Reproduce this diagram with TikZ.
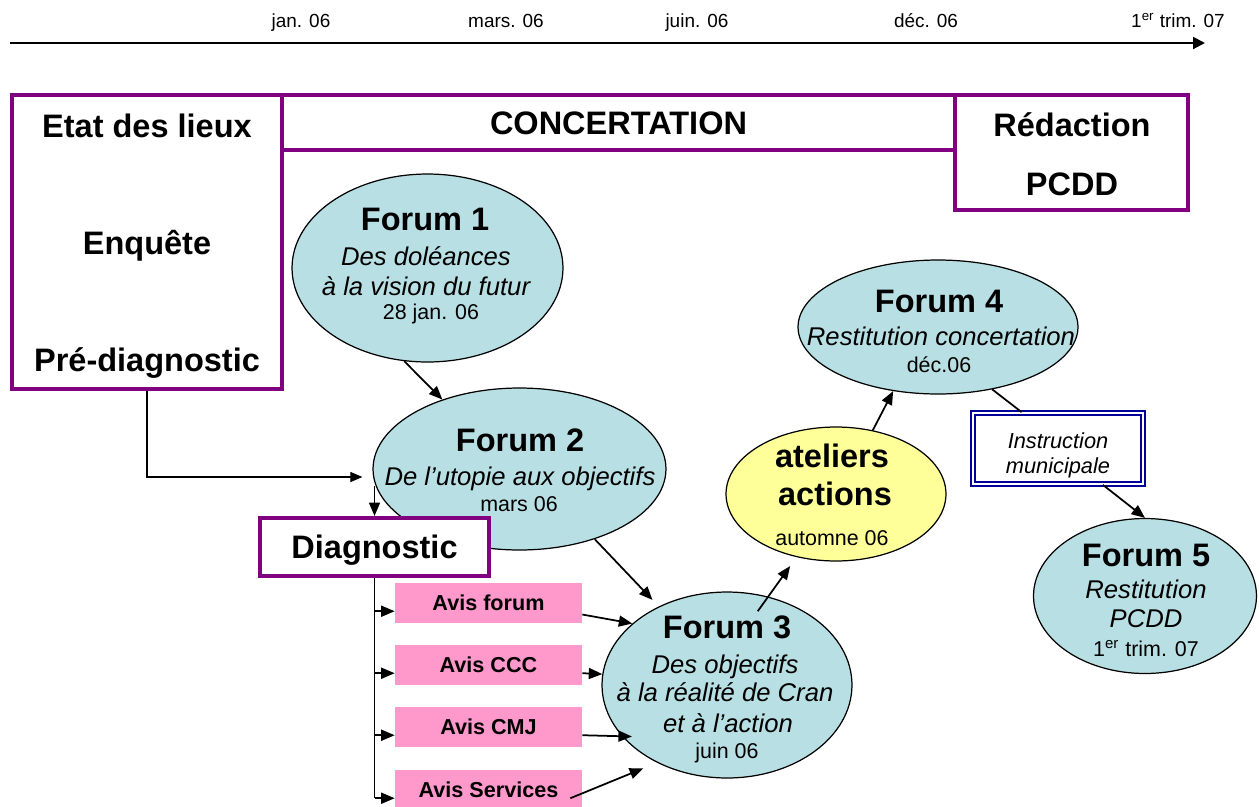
\documentclass[tikz,border=0pt]{standalone}
\usepackage{fontspec}
\setmainfont{Liberation Sans}
\usepackage{tikz}
\usetikzlibrary{arrows.meta,%
                shapes,positioning}

\definecolor{prune}{RGB}{128,0,128}
\definecolor{bleuforum}{RGB}{184,223,227}
\definecolor{rose}{RGB}{255,153,204}
\definecolor{jaune}{RGB}{255,255,153}
\definecolor{marine}{RGB}{0,0,153}

\begin{document}
\begin{tikzpicture}[x=0.02cm,y=-0.02cm,
  every node/.style={inner sep=0pt},
  cadre/.style={rectangle,draw=prune,line width=0.08cm},
  forum/.style={ellipse,draw,line width=0.7pt,fill=bleuforum},
  avis/.style={rectangle,fill=rose,minimum width=3.74cm,minimum height=0.8cm,
    font=\fontsize{12.3}{14}\selectfont\bfseries,text height=8.8pt,text depth=0pt},
  titre/.style={font=\fontsize{18.5}{22}\selectfont\bfseries,text height=13.3pt,text depth=0pt},
  sous/.style={font=\fontsize{14.6}{17}\selectfont\itshape,text height=10.5pt,text depth=0pt},
  quand/.style={font=\fontsize{12.2}{14}\selectfont,text height=8.7pt,text depth=0pt},
  mois/.style={font=\fontsize{10.8}{13}\selectfont,text height=7.8pt,text depth=0pt},
  instr/.style={font=\fontsize{12.4}{14}\selectfont\itshape,text height=8.9pt,text depth=0pt},
  fleche/.style={-{Triangle[length=0.27cm,width=0.22cm]},line width=0.035cm}]

\fill[white] (0,0) rectangle (1259,806);
\useasboundingbox (0,0) rectangle (1259,806);

\coordinate (t0) at (10,43);
\coordinate (t1) at (1205,43);
\draw[line width=0.04cm,-{Triangle[length=0.24cm,width=0.24cm]}] (t0) -- (t1);
\node[mois] (jan) at (301,21) {jan. 06};
\node[mois] (mars) at (506,21) {mars. 06};
\node[mois] (juin) at (697,21) {juin. 06};
\node[mois] (dec) at (926,21) {déc. 06};
\node[mois] (trim) at (1178,21) {1\textsuperscript{er} trim. 07};

\node[cadre,minimum width=5.4cm,minimum height=5.88cm] (etat) at (147,242) {};
\node[titre] (etatt) at (147,126) {Etat des lieux};
\node[titre] (enq) at (147,243) {Enquête};
\node[titre] (pre) at (147,360) {Pré-diagnostic};
\node[cadre,titre,minimum width=13.46cm,minimum height=1.1cm] (concert) at (618.5,122.5) {CONCERTATION};
\node[cadre,minimum width=4.66cm,minimum height=2.3cm] (redac) at (1071.5,152.5) {};
\node[titre] (redact) at (1072,124.5) {Rédaction};
\node[titre] (pcdd) at (1072,184) {PCDD};

\node[forum,minimum width=5.42cm,minimum height=3.76cm] (f1) at (427.5,268) {};
\node[titre] (f1a) at (425,219) {Forum 1};
\node[sous] (f1b) at (426,256) {Des doléances};
\node[sous] (f1c) at (426,286.5) {à la vision du futur};
\node[quand] (f1d) at (431,311.5) {28 jan. 06};

\node[forum,minimum width=5.86cm,minimum height=3.24cm] (f2) at (519.5,469) {};
\node[titre] (f2a) at (520,440) {Forum 2};
\node[sous] (f2b) at (520,476) {De l’utopie aux objectifs};
\node[quand] (f2c) at (519,503.5) {mars 06};

\node[cadre,titre,fill=white,minimum width=4.58cm,minimum height=1.16cm] (diag) at (374.5,547) {Diagnostic};

\node[avis] (avf) at (488.5,603) {Avis forum};
\node[avis] (avccc) at (488.5,665) {Avis CCC};
\node[avis] (avcmj) at (488.5,727) {Avis CMJ};
\node[avis] (avserv) at (488.5,790) {Avis Services};

\node[forum,minimum width=5cm,minimum height=3.72cm] (f3) at (727,685) {};
\node[titre] (f3a) at (727,627) {Forum 3};
\node[sous] (f3b) at (725,664) {Des objectifs};
\node[sous] (f3c) at (725,692.5) {à la réalité de Cran};
\node[sous] (f3d) at (728,723.5) {et à l’action};
\node[quand] (f3e) at (727,751) {juin 06};

\node[ellipse,draw,line width=0.7pt,fill=jaune,minimum width=4.4cm,minimum height=2.68cm] (at) at (836,494) {};
\node[titre] (ata) at (832,456) {ateliers};
\node[titre] (atb) at (835,494) {actions};
\node[quand] (atc) at (832,537.5) {automne 06};

\node[forum,minimum width=5.6cm,minimum height=2.68cm] (f4) at (938,327) {};
\node[titre] (f4a) at (939,301) {Forum 4};
\node[sous] (f4b) at (941,336) {Restitution concertation};
\node[quand] (f4c) at (939,364.5) {déc.06};

\node[draw=marine,double=white,double distance=0.04cm,line width=0.035cm,
  minimum width=3.4cm,minimum height=1.42cm] (instr) at (1058,448.5) {};
\node[instr] (instra) at (1058,440.5) {Instruction};
\node[instr] (instrb) at (1058,465.5) {municipale};

\node[forum,minimum width=4.46cm,minimum height=3.1cm] (f5) at (1145,596) {};
\node[titre] (f5a) at (1146,555) {Forum 5};
\node[sous] (f5b) at (1146,589) {Restitution};
\node[sous] (f5c) at (1146,618.5) {PCDD};
\node[quand] (f5d) at (1146,648.5) {1\textsuperscript{er} trim. 07};

\draw[fleche] (f1.256) -- (f2.138);
\draw[-{Triangle[length=0.24cm,width=0.2cm]},line width=0.022cm] (pre |- etat.south) |- ([shift={(-10,8)}]f2.west);
\draw[fleche] ([yshift=0.6cm]diag.north) -- (diag.north);
\draw[line width=0.035cm] (diag.south) -- (diag.south |- avserv.185);
\foreach \b in {avf,avccc,avcmj,avserv}
  \draw[fleche] (diag.south |- \b.185) -- (\b.185);

\draw[fleche] (avf.-7) -- (f3.147);
\draw[fleche] (avccc.-5.5) -- (f3.175);
\draw[fleche,shorten >=-0.2cm] (avcmj.-5.5) -- (f3.206);
\draw[fleche,shorten >=0.3cm] ([xshift=-0.24cm]avserv.-5) -- (f3.228);
\draw[fleche,shorten >=0.18cm] (f2.-43) -- (f3.131);

\draw[fleche,shorten <=-0.36cm,shorten >=0.22cm] (f3.65) -- (at.238);
\draw[fleche] (at.60) -- (f4.235);
\draw[line width=0.035cm] (f4.-49) -- (instr.135);
\draw[fleche] (instr.-39.5) -- (f5.north);

\end{tikzpicture}
\end{document}
